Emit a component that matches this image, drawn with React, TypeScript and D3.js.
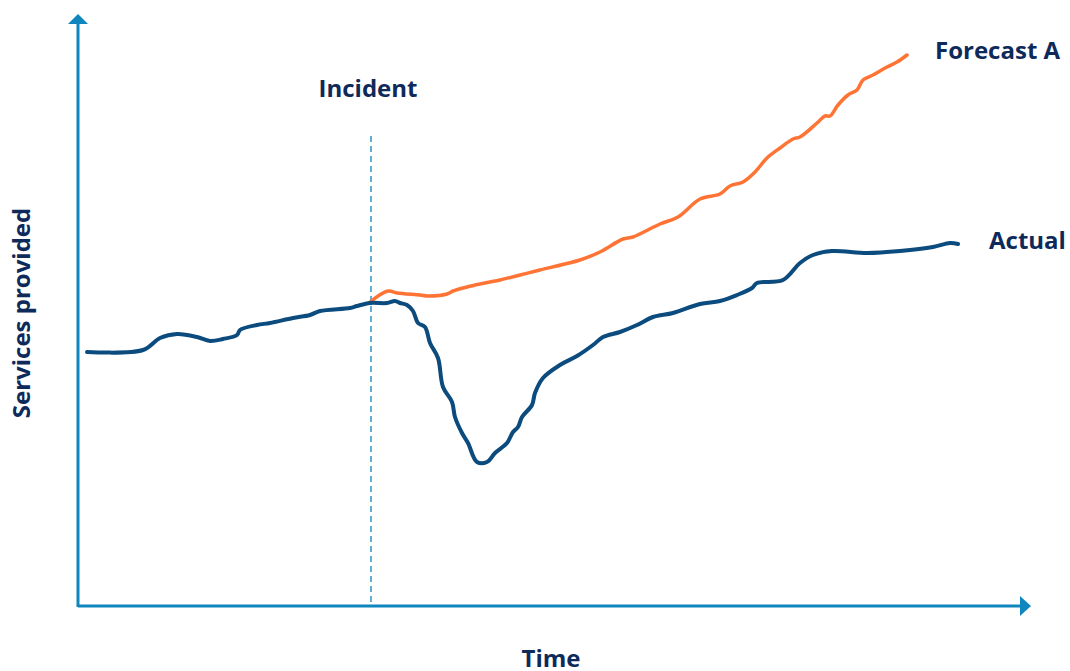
import React from "react";
import * as d3 from "d3";

// Time (horizontal units) and service levels (vertical units)
const actualTime = [9, 65, 82, 99, 119, 132, 145, 159, 162, 179, 192, 215, 232, 242, 272, 279, 292, 309, 317, 322, 329, 335, 340, 347, 352, 360, 365, 374, 377, 384, 390, 399, 409, 417, 429, 435, 440, 444, 454, 457, 465, 482, 499, 515, 525, 542, 559, 575, 595, 622, 642, 659, 674, 679, 705, 722, 735, 754, 789, 822, 855, 872, 880];
const actualValue = [254, 256, 268, 272, 269, 265, 267, 271, 276, 281, 283, 288, 291, 295, 298, 300, 303, 303, 305, 303, 301, 295, 283, 279, 263, 248, 219, 204, 189, 173, 163, 144, 144, 153, 163, 174, 179, 189, 201, 213, 228, 241, 250, 261, 269, 274, 281, 289, 293, 302, 305, 311, 318, 323, 326, 343, 351, 355, 353, 355, 359, 363, 362];
const forecastTime = [292, 310, 319, 342, 350, 369, 375, 389, 402, 422, 442, 462, 487, 502, 522, 545, 555, 582, 600, 622, 642, 652, 665, 677, 689, 702, 715, 722, 739, 747, 752, 760, 770, 779, 785, 795, 809, 819, 829];
const forecastValue = [304, 315, 313, 311, 310, 312, 315, 319, 322, 326, 331, 336, 342, 346, 354, 367, 369, 382, 389, 407, 412, 420, 424, 434, 448, 458, 467, 469, 483, 490, 490, 501, 511, 516, 526, 531, 539, 544, 551];
const incidentTime = 293;

const labels = { incident: "Incident", forecast: "Forecast A", actual: "Actual", xTitle: "Time", yTitle: "Services provided" };

const W = 1070;
const H = 671;
const axisColor = "#0f86bd";
const actualColor = "#0b4b7e";
const forecastColor = "#ff7435";
const textColor = "#0d2a5a";
const font = "'Open Sans', 'Noto Sans', sans-serif";

export default function App() {
  const x = d3.scaleLinear().domain([0, 953]).range([78, 1031]);
  const y = d3.scaleLinear().domain([0, 588]).range([606, 18]);

  const line = d3
    .line<[number, number]>()
    .x((d) => x(d[0]))
    .y((d) => y(d[1]))
    .curve(d3.curveCatmullRom.alpha(0.5));

  const actualPts = actualTime.map((t, i) => [t, actualValue[i]] as [number, number]);
  const forecastPts = forecastTime.map((t, i) => [t, forecastValue[i]] as [number, number]);

  const x0 = x(0);
  const y0 = y(0);
  const xEnd = x(953);
  const yTop = y(592);

  return (
    <svg
      width={W}
      height={H}
      style={{ position: "absolute", left: 0, top: 0 }}
      fontFamily={font}
    >
      {/* axes */}
      <line x1={x0} y1={y0} x2={xEnd - 10} y2={y0} stroke={axisColor} strokeWidth={3} />
      <line x1={x0} y1={y0 + 1} x2={x0} y2={yTop + 10} stroke={axisColor} strokeWidth={3} />
      <path
        d={`M${xEnd - 11},${y0 - 10} L${xEnd},${y0} L${xEnd - 11},${y0 + 10} Z`}
        fill={axisColor}
      />
      <path
        d={`M${x0 - 10},${yTop + 10} L${x0},${yTop} L${x0 + 10},${yTop + 10} Z`}
        fill={axisColor}
      />

      {/* incident marker */}
      <line
        x1={x(incidentTime)}
        x2={x(incidentTime)}
        y1={136}
        y2={y0}
        stroke={axisColor}
        strokeWidth={1.3}
        strokeDasharray="6,4"
      />

      {/* lines */}
      <path d={line(forecastPts) || ""} fill="none" stroke={forecastColor} strokeWidth={3.5} strokeLinecap="round" strokeLinejoin="round" />
      <path d={line(actualPts) || ""} fill="none" stroke={actualColor} strokeWidth={4} strokeLinecap="round" strokeLinejoin="round" />

      {/* labels */}
      <text x={368} y={97} textAnchor="middle" fontSize={24} fontWeight={700} fill={textColor}>
        {labels.incident}
      </text>
      <text x={935} y={59} fontSize={24} fontWeight={700} fill={textColor}>
        {labels.forecast}
      </text>
      <text x={989} y={249} fontSize={24} fontWeight={700} fill={textColor}>
        {labels.actual}
      </text>
      <text x={551} y={667} textAnchor="middle" fontSize={24} fontWeight={700} fill={textColor}>
        {labels.xTitle}
      </text>
      <text
        transform={`translate(30,313) rotate(-90)`}
        textAnchor="middle"
        fontSize={24}
        fontWeight={700}
        fill={textColor}
      >
        {labels.yTitle}
      </text>
    </svg>
  );
}
